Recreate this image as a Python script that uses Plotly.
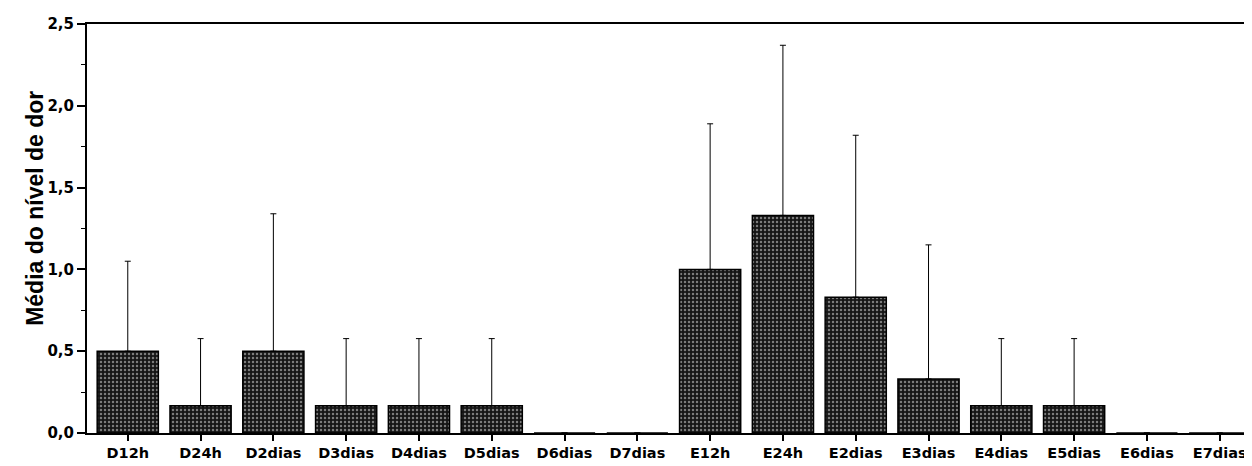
import plotly.graph_objects as go

categories = ["D12h", "D24h", "D2dias", "D3dias", "D4dias", "D5dias", "D6dias", "D7dias",
              "E12h", "E24h", "E2dias", "E3dias", "E4dias", "E5dias", "E6dias", "E7dias"]
means = [0.50, 0.167, 0.50, 0.167, 0.167, 0.167, 0.0, 0.0,
         1.00, 1.33, 0.83, 0.33, 0.167, 0.167, 0.0, 0.0]
errors = [0.55, 0.41, 0.84, 0.41, 0.41, 0.41, 0.0, 0.0,
          0.89, 1.04, 0.99, 0.82, 0.41, 0.41, 0.0, 0.0]
y_ticks = [0.0, 0.5, 1.0, 1.5, 2.0, 2.5]
y_title = "Média do nível de dor"

fig = go.Figure()
fig.add_trace(go.Bar(
    x=list(range(len(categories))),
    y=means,
    width=0.84,
    marker=dict(
        color="#1a1a1a",
        line=dict(color="black", width=1.5),
        pattern=dict(shape=".", fgcolor="#e0e0e0", bgcolor="#151515", size=4, solidity=0.3),
    ),
    error_y=dict(type="data", array=errors, symmetric=False, arrayminus=[0] * len(errors),
                 color="black", thickness=1, width=3, visible=True),
    showlegend=False,
))

tick_font = "DejaVu Sans, Liberation Sans, sans-serif"
title_font = "Liberation Sans, Arial, sans-serif"
fig.update_layout(
    width=1244, height=458,
    margin=dict(l=79, r=1, t=16, b=33),
    paper_bgcolor="white", plot_bgcolor="white",
    font=dict(family=tick_font, color="black"),
    xaxis=dict(
        range=[-0.56, 15.43],
        tickmode="array",
        tickvals=list(range(len(categories))),
        ticktext=["<b>%s</b>" % c for c in categories],
        tickfont=dict(size=14.5, family=tick_font, color="black"),
        showline=True, linecolor="black", linewidth=2, mirror=True,
        ticks="outside", ticklen=6, tickwidth=1.5, tickcolor="black",
        showgrid=False, zeroline=False,
    ),
    yaxis=dict(
        range=[0, 2.5],
        tickmode="array",
        tickvals=y_ticks,
        ticktext=["<b>%s</b>" % ("%.1f" % v).replace(".", ",") for v in y_ticks],
        tickfont=dict(size=15, family=tick_font, color="black"),
        showline=True, linecolor="black", linewidth=2,
        ticks="outside", ticklen=8, tickwidth=1.5, tickcolor="black",
        minor=dict(dtick=0.25, ticks="outside", ticklen=4, tickcolor="black", tickwidth=1),
        showgrid=False, zeroline=False,
    ),
    annotations=[dict(
        text="<b>%s</b>" % y_title,
        xref="paper", x=0, xanchor="center", xshift=-52,
        yref="y", y=1.37, yanchor="middle",
        textangle=-90, showarrow=False,
        font=dict(size=23, family=title_font, color="black"),
    )],
)

fig.write_html("out.html")
